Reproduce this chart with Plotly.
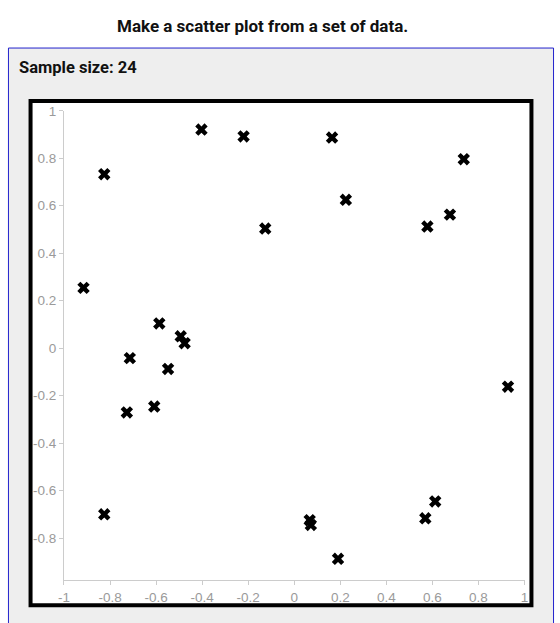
import plotly.graph_objects as go

W, H = 560, 623

# data
x_vals = [-0.915, -0.825, -0.825, -0.714, -0.727, -0.586, -0.608, -0.548, -0.493, -0.476,
          -0.403, -0.22, -0.126, 0.164, 0.224, 0.067, 0.072, 0.19, 0.578, 0.676,
          0.736, 0.569, 0.612, 0.928]
y_vals = [0.254, 0.733, -0.70, -0.042, -0.271, 0.104, -0.246, -0.0875, 0.05, 0.021,
          0.921, 0.892, 0.504, 0.8875, 0.625, -0.725, -0.745, -0.8875, 0.5125, 0.5625,
          0.796, -0.717, -0.646, -0.1625]

x_ticks = [-1, -0.8, -0.6, -0.4, -0.2, 0, 0.2, 0.4, 0.6, 0.8, 1]
x_tick_text = ["-1", "-0.8", "-0.6", "-0.4", "-0.2", "0", "0.2", "0.4", "0.6", "0.8", "1"]
y_ticks = [-0.8, -0.6, -0.4, -0.2, 0, 0.2, 0.4, 0.6, 0.8, 1]
y_tick_text = ["-0.8", "-0.6", "-0.4", "-0.2", "0", "0.2", "0.4", "0.6", "0.8", "1"]

title_text = "Make a scatter plot from a set of data."
panel_text = "Sample size: " + str(len(x_vals))


def px(x):
    return x / W


def py(y):
    return 1 - y / H


fig = go.Figure()
fig.add_trace(go.Scatter(
    x=x_vals, y=y_vals, mode="markers",
    marker=dict(symbol="x", size=11, color="black", line=dict(width=0)),
    hoverinfo="x+y", showlegend=False,
))

axis_common = dict(
    showline=True, linecolor="#cccccc", linewidth=1,
    ticks="outside", ticklen=4, tickcolor="#cccccc", tickwidth=1,
    tickfont=dict(family="Liberation Sans, Arial", size=13.5, color="#9a9a9a"),
    showgrid=False, zeroline=False, fixedrange=True,
)

fig.update_layout(
    width=W, height=H,
    margin=dict(l=0, r=0, t=0, b=0),
    paper_bgcolor="white",
    plot_bgcolor="rgba(0,0,0,0)",
    xaxis=dict(range=[-1, 1], domain=[px(59), px(528)],
               tickvals=x_ticks, ticktext=x_tick_text, anchor="y", **axis_common),
    yaxis=dict(range=[-0.979, 1], domain=[py(580), py(105)],
               tickvals=y_ticks, ticktext=y_tick_text, anchor="x", **axis_common),
    shapes=[
        dict(type="rect", xref="paper", yref="paper", layer="below",
             x0=px(2.5), x1=px(557.5), y0=py(700), y1=py(41.5),
             line=dict(color="#2222cc", width=1), fillcolor="#eeeeee"),
        dict(type="rect", xref="paper", yref="paper", layer="below",
             x0=px(25), x1=px(535), y0=py(605), y1=py(95),
             line=dict(color="black", width=4), fillcolor="white"),
    ],
    annotations=[
        dict(text="<b>" + title_text + "</b>", xref="paper", yref="paper",
             x=px(261), y=py(19), xanchor="center", yanchor="middle", showarrow=False,
             font=dict(family="Roboto", size=17, color="#111111")),
        dict(text="<b>" + panel_text + "</b>", xref="paper", yref="paper",
             x=px(11), y=py(61), xanchor="left", yanchor="middle", showarrow=False,
             font=dict(family="Roboto", size=16.5, color="#111111")),
    ],
)

fig.write_html("out.html")
